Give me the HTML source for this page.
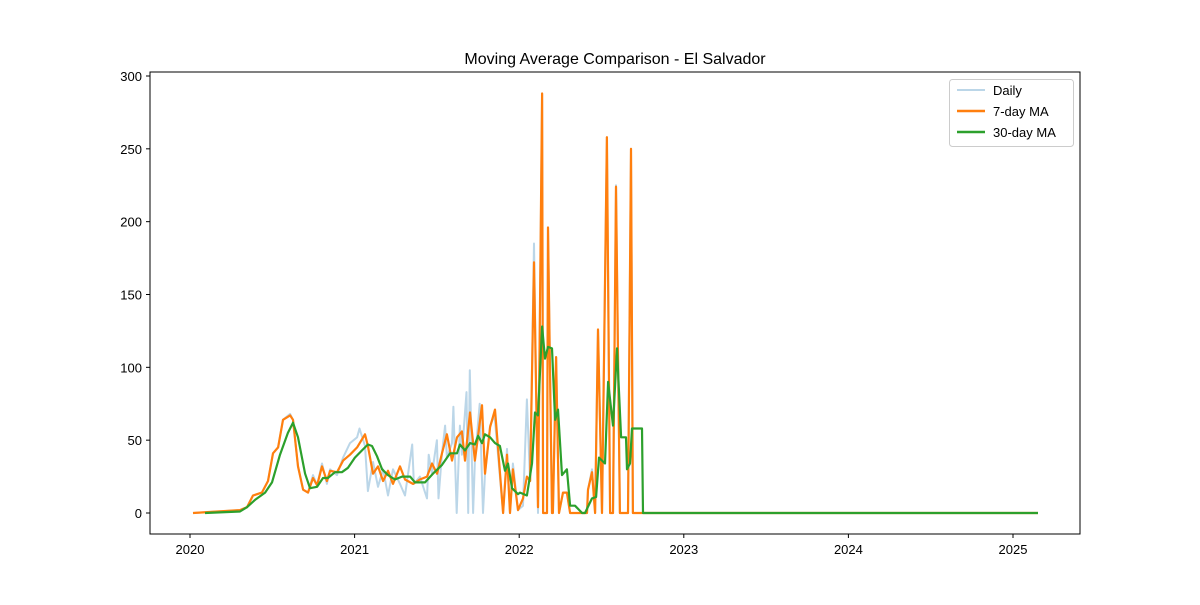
<!DOCTYPE html>
<html><head><meta charset="utf-8"><style>
body{margin:0;background:#fff;}
svg text{font-family:"Liberation Sans","DejaVu Sans",sans-serif;}
</style></head><body>
<svg id="chart" width="1200" height="600">
<rect width="1200" height="600" fill="#fff"/>
<text x="615" y="64" font-size="16" text-anchor="middle">Moving Average Comparison - El Salvador</text>
<g id="plot"></g>
<rect x="150" y="72" width="930" height="462" fill="none" stroke="#000" stroke-width="1"/>
<g id="axes"></g>
<g>
<rect x="949.5" y="79.5" width="124" height="67" rx="3" fill="#fff" fill-opacity="0.8" stroke="#ccc"/>
<g><line x1="957" y1="90" x2="985" y2="90" stroke="#1f77b4" stroke-opacity="0.3" stroke-width="2"/><text x="993" y="95" font-size="13">Daily</text></g>
<g><line x1="957" y1="111" x2="985" y2="111" stroke="#ff7f0e" stroke-width="2.5"/><text x="993" y="116" font-size="13">7-day MA</text></g>
<g><line x1="957" y1="132" x2="985" y2="132" stroke="#2ca02c" stroke-width="2.5"/><text x="993" y="137" font-size="13">30-day MA</text></g>
</g>
</svg>
<script>
// years since 2020-01-01
const ma7Dates=[0.018,0.304,0.346,0.383,0.437,0.474,0.504,0.535,0.565,0.608,0.626,0.656,0.687,0.717,0.747,0.772,0.802,0.832,0.851,0.893,0.930,0.972,1.015,1.063,1.081,1.112,1.142,1.173,1.203,1.233,1.276,1.306,1.355,1.397,1.440,1.470,1.501,1.531,1.561,1.592,1.622,1.652,1.671,1.701,1.731,1.774,1.792,1.823,1.853,1.871,1.902,1.926,1.944,1.962,1.993,2.023,2.047,2.066,2.090,2.114,2.139,2.145,2.169,2.175,2.199,2.205,2.224,2.242,2.266,2.290,2.309,2.412,2.418,2.442,2.461,2.479,2.503,2.533,2.552,2.570,2.588,2.612,2.661,2.679,2.691,5.152];
const ma7Values=[0,2,4,12,14,22,41,45,64,67,64,32,16,14,24,19,32,22,29,28,36,40,45,54,46,27,32,22,29,20,32,23,20,23,25,34,27,41,54,36,52,56,36,69,36,74,27,59,71,45,0,40,0,30,2,10,25,22,172,4,288,0,0,196,0,0,107,0,14,14,0,0,16,28,0,126,0,258,0,0,224,0,0,250,0,0];
const ma30Dates=[0.091,0.304,0.346,0.395,0.456,0.498,0.547,0.595,0.626,0.656,0.699,0.729,0.772,0.808,0.838,0.881,0.923,0.960,1.002,1.045,1.081,1.106,1.136,1.167,1.203,1.245,1.288,1.337,1.367,1.428,1.476,1.531,1.580,1.622,1.640,1.671,1.701,1.731,1.750,1.774,1.792,1.823,1.853,1.883,1.914,1.932,1.956,1.993,2.005,2.047,2.078,2.096,2.114,2.139,2.157,2.175,2.199,2.218,2.236,2.260,2.290,2.309,2.339,2.382,2.400,2.442,2.467,2.485,2.521,2.540,2.570,2.594,2.619,2.649,2.655,2.673,2.685,2.746,2.752,5.152];
const ma30Values=[0,1,4,9,14,21,40,55,62,52,27,17,18,24,24,28,28,31,38,43,47,46,39,30,26,23,25,25,21,21,27,33,41,41,47,43,48,47,53,48,54,52,48,46,29,34,17,13,14,12,34,69,67,128,106,114,113,64,71,26,30,5,5,0,0,10,11,38,34,90,60,113,52,52,30,34,58,58,0,0];
const dailyDates=[0.018,0.304,0.346,0.383,0.437,0.474,0.504,0.535,0.565,0.608,0.626,0.656,0.687,0.717,0.747,0.772,0.802,0.832,0.851,0.893,0.930,0.972,1.015,1.03,1.063,1.081,1.112,1.142,1.173,1.203,1.233,1.276,1.306,1.35,1.36,1.397,1.44,1.45,1.470,1.50,1.51,1.531,1.55,1.561,1.592,1.60,1.62,1.64,1.652,1.68,1.69,1.70,1.72,1.731,1.76,1.78,1.792,1.823,1.85,1.871,1.902,1.926,1.944,1.962,1.993,2.023,2.047,2.066,2.090,2.114,2.139,2.145,2.169,2.175,2.199,2.205,2.224,2.242,2.266,2.290,2.309,2.412,2.418,2.442,2.461,2.479,2.503,2.533,2.552,2.570,2.588,2.612,2.661,2.679,2.691,5.152];
const dailyValues=[0,2,4,12,14,22,41,45,64,68,64,32,16,14,26,19,34,20,30,26,38,48,52,58,46,15,35,18,30,12,30,20,12,47,20,25,10,40,27,50,10,41,60,38,48,73,0,60,40,83,0,98,0,36,75,0,27,60,67,40,0,44,0,34,2,5,78,22,185,0,288,0,0,196,0,0,107,0,14,14,0,0,16,30,0,126,0,258,0,0,225,0,0,250,0,0];
const xTickYears=[2020,2021,2022,2023,2024,2025];
const yTickValues=[0,50,100,150,200,250,300];

const NS="http://www.w3.org/2000/svg";
const X0=190,PXY=164.6,Y0=513,PXV=1.4567;
function xScale(yr){return X0+(yr-2020)*PXY;}
function yScale(v){return Y0-v*PXV;}
const plot=document.getElementById('plot'),axes=document.getElementById('axes');
function drawLine(dates,vals,color,op,w,name){
  const p=document.createElementNS(NS,'polyline');
  p.setAttribute('points',dates.map((d,i)=>xScale(2020+d).toFixed(1)+','+yScale(vals[i]).toFixed(1)).join(' '));
  p.setAttribute('fill','none');p.setAttribute('stroke',color);p.setAttribute('stroke-opacity',op);
  p.setAttribute('stroke-width',w);p.setAttribute('stroke-linejoin','round');
  
  
  plot.appendChild(p);
}
drawLine(dailyDates,dailyValues,'#1f77b4',0.3,2,'daily-line');
drawLine(ma7Dates,ma7Values,'#ff7f0e',1,2.2,'ma7-line');
drawLine(ma30Dates,ma30Values,'#2ca02c',1,2.2,'ma30-line');
xTickYears.forEach(y=>{
  const x=xScale(y);
  const l=document.createElementNS(NS,'line');
  l.setAttribute('x1',x);l.setAttribute('x2',x);l.setAttribute('y1',534);l.setAttribute('y2',538);l.setAttribute('stroke','#000');
  
  
  axes.appendChild(l);
  const t=document.createElementNS(NS,'text');
  t.setAttribute('x',x);t.setAttribute('y',554);t.setAttribute('font-size','13');t.setAttribute('text-anchor','middle');
  t.textContent=y;
  
  
  axes.appendChild(t);
});
yTickValues.forEach(v=>{
  const y=yScale(v);
  const l=document.createElementNS(NS,'line');
  l.setAttribute('x1',146);l.setAttribute('x2',150);l.setAttribute('y1',y);l.setAttribute('y2',y);l.setAttribute('stroke','#000');
  
  
  axes.appendChild(l);
  const t=document.createElementNS(NS,'text');
  t.setAttribute('x',142);t.setAttribute('y',y+5);t.setAttribute('font-size','13');t.setAttribute('text-anchor','end');
  t.textContent=v;
  
  
  axes.appendChild(t);
});
</script>
</body></html>
